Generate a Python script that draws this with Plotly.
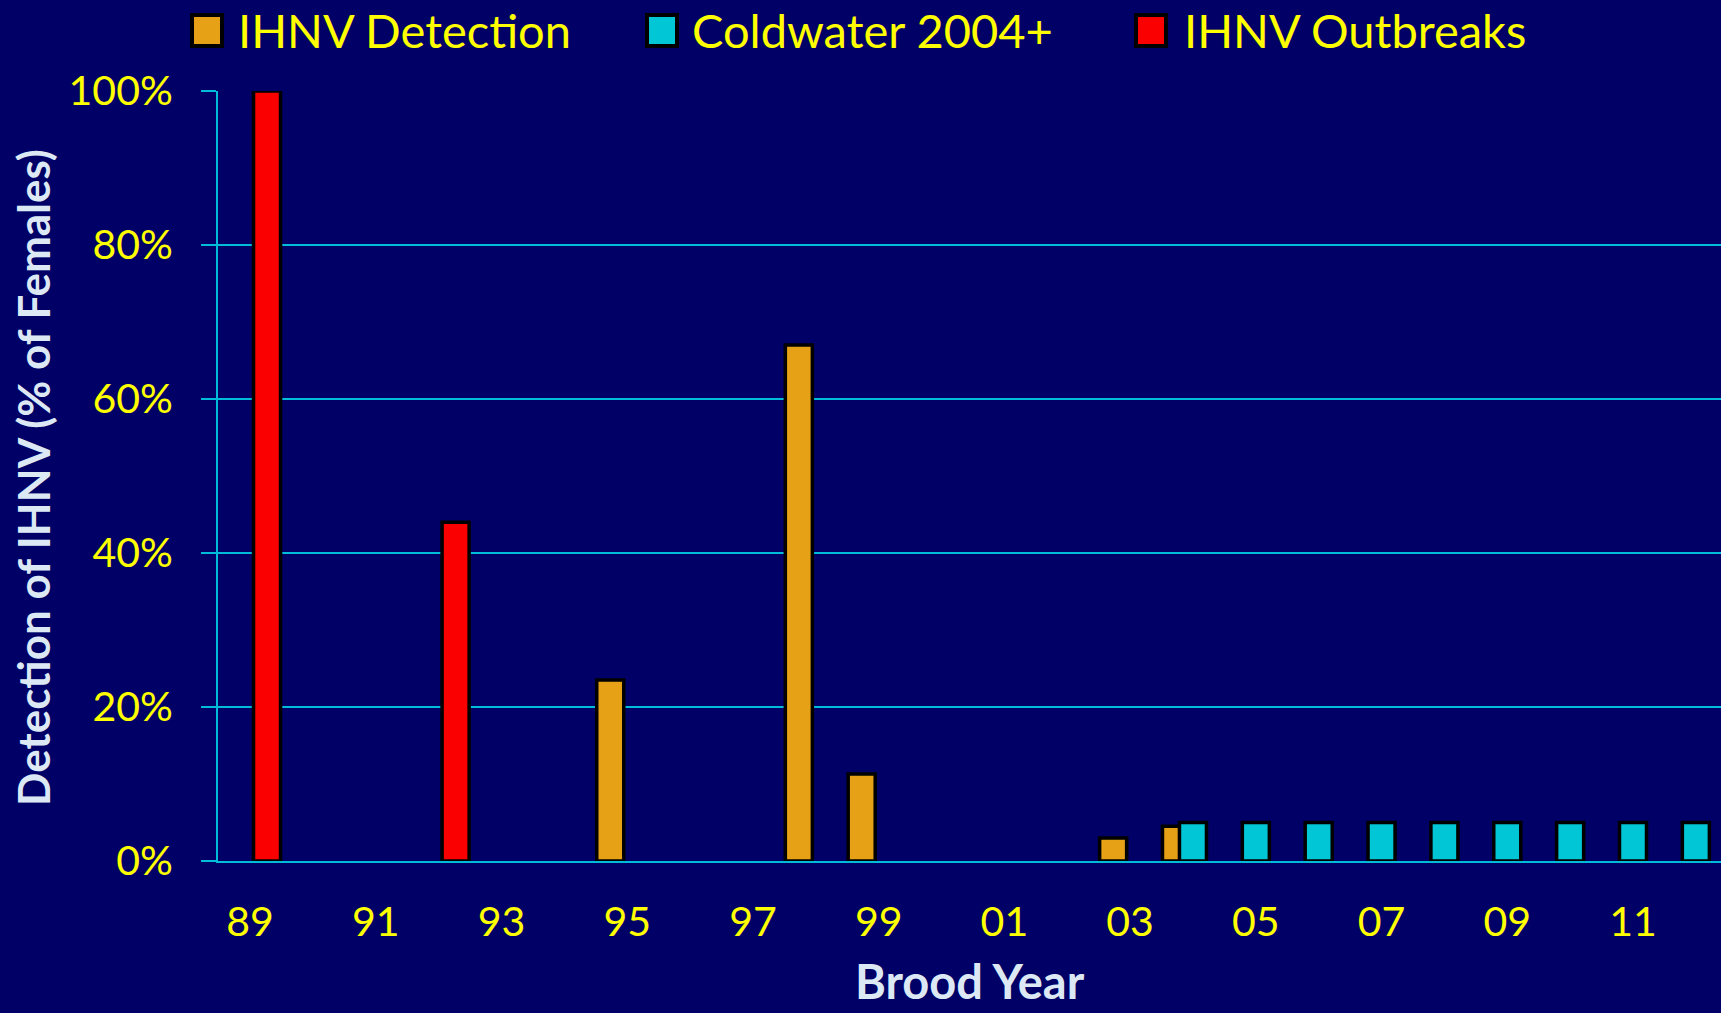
import plotly.graph_objects as go

# ---------------- data ----------------
detection_years = [1995, 1998, 1999, 2003, 2004]
detection_vals = [0.235, 0.67, 0.113, 0.03, 0.045]

outbreak_years = [1989, 1992]
outbreak_vals = [1.00, 0.44]

coldwater_years = [2004, 2005, 2006, 2007, 2008, 2009, 2010, 2011, 2012]
coldwater_vals = [0.05, 0.05, 0.05, 0.05, 0.05, 0.05, 0.05, 0.05, 0.05]

tick_years = [1989, 1991, 1993, 1995, 1997, 1999, 2001, 2003, 2005, 2007, 2009, 2011]
tick_labels = ["89", "91", "93", "95", "97", "99", "01", "03", "05", "07", "09", "11"]

series_names = ["IHNV Detection", "Coldwater 2004+", "IHNV Outbreaks"]

# ---------------- style ----------------
W, H = 1721, 1013
ML, MR, MT, MB = 218, 0, 91, 152
BG = "#000066"
GRID = "#00BCD8"
ORANGE = "#E6A117"
CYAN = "#00C6D6"
RED = "#FA0000"
YELLOW = "#FFFF00"
TITLE_C = "#DCE9F5"
FONT = "Lato"

BW = 0.43      # bar width (years)
SHIFT = 0.27   # group offset (years)


def px_x(px):
    return (px - ML) / (W - ML - MR)


def px_y(py):
    return (H - MB - py) / (H - MT - MB)


fig = go.Figure()

line = dict(color="black", width=3.5)
fig.add_trace(go.Bar(x=detection_years, y=detection_vals, name=series_names[0],
                     marker=dict(color=ORANGE, line=line),
                     width=BW, offset=-SHIFT - BW / 2, cliponaxis=False))
fig.add_trace(go.Bar(x=outbreak_years, y=outbreak_vals, name=series_names[2],
                     marker=dict(color=RED, line=line),
                     width=BW, offset=SHIFT - BW / 2, cliponaxis=False))
fig.add_trace(go.Bar(x=coldwater_years, y=coldwater_vals, name=series_names[1],
                     marker=dict(color=CYAN, line=line),
                     width=BW, offset=-BW / 2, cliponaxis=False))

# ---------------- manual legend ----------------
legend_items = [
    (series_names[0], ORANGE, 192, 236),
    (series_names[1], CYAN, 647, 690),
    (series_names[2], RED, 1136, 1182),
]
shapes = []
annotations = []
for name, col, sx, tx in legend_items:
    shapes.append(dict(type="rect", xref="paper", yref="paper",
                       x0=px_x(sx), x1=px_x(sx + 30), y0=px_y(46), y1=px_y(15),
                       fillcolor=col, line=dict(color="black", width=4), layer="above"))
    annotations.append(dict(text=name, xref="paper", yref="paper",
                            x=px_x(tx), y=px_y(30), xanchor="left", yanchor="middle",
                            showarrow=False, font=dict(family=FONT, size=47, color=YELLOW)))

# axis titles
annotations.append(dict(text="<b>Brood Year</b>", xref="paper", yref="paper",
                        x=0.5, y=px_y(981), xanchor="center", yanchor="middle",
                        showarrow=False, font=dict(family=FONT, size=47, color=TITLE_C)))
annotations.append(dict(text="<b>Detection of IHNV (% of Females)</b>", xref="paper", yref="paper",
                        x=px_x(33), y=px_y(478), xanchor="center", yanchor="middle",
                        textangle=-90, showarrow=False,
                        font=dict(family=FONT, size=44, color=TITLE_C)))

fig.update_layout(
    width=W, height=H,
    margin=dict(l=ML, r=MR, t=MT, b=MB, pad=0),
    paper_bgcolor=BG, plot_bgcolor=BG,
    barmode="overlay",
    showlegend=False,
    shapes=shapes,
    annotations=annotations,
    font=dict(family=FONT, color=YELLOW),
)

fig.update_xaxes(
    range=[1988.49, 2012.40],
    tickvals=tick_years, ticktext=tick_labels,
    tickfont=dict(family=FONT, size=41, color=YELLOW),
    ticks="", showgrid=False, zeroline=False,
    showline=True, linecolor=GRID, linewidth=2,
    ticklabelstandoff=24,
)
fig.update_yaxes(
    range=[0, 1], tickvals=[0, 0.2, 0.4, 0.6, 0.8, 1.0], tickformat=".0%",
    tickfont=dict(family=FONT, size=41, color=YELLOW),
    ticks="outside", ticklen=15, tickwidth=2, tickcolor=GRID,
    showgrid=True, gridcolor=GRID, gridwidth=2,
    zeroline=False, showline=True, linecolor=GRID, linewidth=2,
    ticklabelstandoff=20,
)

fig.write_html(
    "out.html",
    config={"displayModeBar": False},
    post_script="document.body.style.margin='0';document.body.style.overflow='hidden';document.body.style.background='#000066';",
)
